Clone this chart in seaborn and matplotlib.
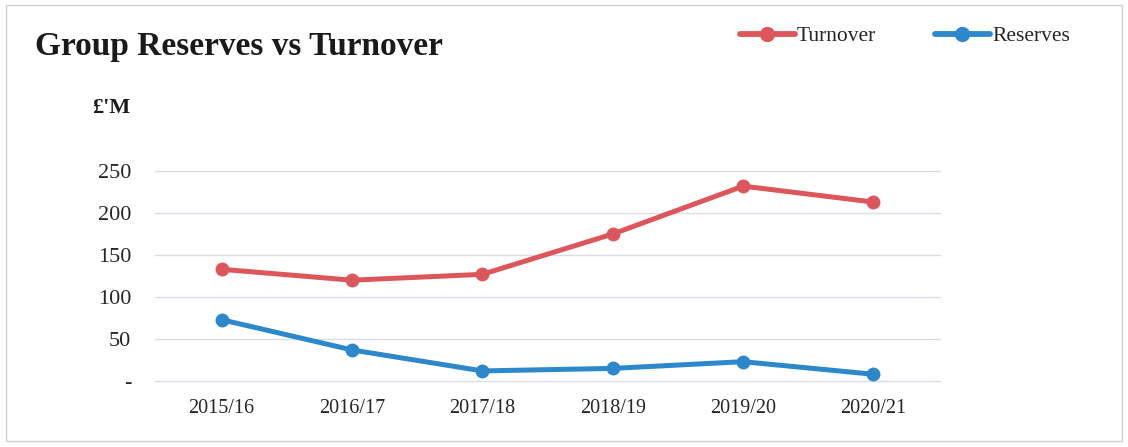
import matplotlib
matplotlib.use("Agg")
import matplotlib.pyplot as plt
import seaborn as sns
import pandas as pd
from matplotlib.patches import Rectangle
from matplotlib.lines import Line2D

years = ["2015/16", "2016/17", "2017/18", "2018/19", "2019/20", "2020/21"]
turnover = [133, 120, 127, 175, 232, 213]
reserves = [73, 37, 12, 15, 23, 8]
y_ticks = [0, 50, 100, 150, 200, 250]
y_tick_labels = ["-", "50", "100", "150", "200", "250"]

sns.set_theme(style="white")
plt.rcParams["font.family"] = ["Liberation Serif", "DejaVu Serif"]

df = pd.DataFrame({
    "Year": years * 2,
    "Value": turnover + reserves,
    "Series": ["Turnover"] * len(years) + ["Reserves"] * len(years),
})

fig = plt.figure(figsize=(11.28, 4.47), dpi=100)
ax = fig.add_axes([155 / 1128, 1 - 381 / 447, 785 / 1128, 210 / 447])

palette = {"Turnover": "#DB575C", "Reserves": "#2C88CA"}
sns.lineplot(data=df, x="Year", y="Value", hue="Series", palette=palette,
             marker="o", markersize=10, markeredgewidth=0, linewidth=3.6,
             ax=ax, legend=False, clip_on=False, zorder=3)

ax.set_xlim(-0.51, len(years) - 0.49)
ax.set_ylim(0, 250)
ax.set_yticks(y_ticks)
ax.set_yticklabels(y_tick_labels, fontsize=16)
ax.set_xticks(range(len(years)))
ax.set_xticklabels(years, fontsize=14.5)
ax.tick_params(axis="y", length=0, pad=17)
ax.tick_params(axis="x", length=0, pad=13)
ax.yaxis.grid(True, color="#DCDCE6", linewidth=1)
for gl in ax.get_ygridlines():
    gl.set_clip_on(False)
ax.xaxis.grid(False)
for s in ax.spines.values():
    s.set_visible(False)
ax.set_xlabel("")
ax.set_ylabel("")

fig.text(35 / 1128, 1 - 46 / 447, "Group Reserves vs Turnover", fontsize=24,
         fontweight="bold", va="center", ha="left", color="#1a1a1a")
fig.text(92 / 1128, 1 - 108 / 447, "£'M", fontsize=16, fontweight="bold",
         va="center", ha="left", color="#1a1a1a")

for name, x0 in [("Turnover", 740), ("Reserves", 935)]:
    h = Line2D([], [], color=palette[name], marker="o", markersize=11,
               markeredgewidth=0, linewidth=4.2)
    leg = fig.legend([h], [name], loc="center left",
                     bbox_to_anchor=(x0 / 1128, 1 - 36 / 447), frameon=False,
                     fontsize=15.5, handlelength=2.55, handletextpad=0.1,
                     borderpad=0, borderaxespad=0)

fig.patches.append(Rectangle((6 / 1128, 6 / 447), 1116 / 1128, 436 / 447,
                             transform=fig.transFigure, fill=False,
                             edgecolor="#D0D0D0", linewidth=1))

fig.savefig("out.png", dpi=100)
